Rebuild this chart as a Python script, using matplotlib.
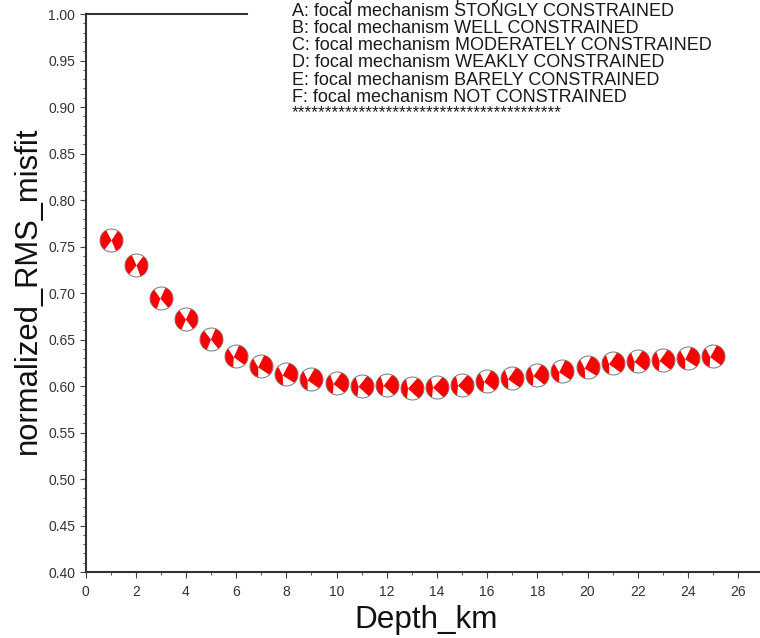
import numpy as np
import matplotlib
matplotlib.use('Agg')
import matplotlib.pyplot as plt
from matplotlib.path import Path

plt.rcParams['font.family'] = ['Liberation Sans', 'DejaVu Sans']

depth = list(range(1, 26))
misfit = [0.757, 0.730, 0.695, 0.672, 0.651, 0.632, 0.621, 0.613, 0.607, 0.603,
          0.600, 0.601, 0.598, 0.599, 0.601, 0.605, 0.609, 0.612, 0.616, 0.620,
          0.625, 0.627, 0.628, 0.630, 0.632]
# tilt of the red lobes (degrees) and shift of the nodal crossing to the left
tilt = [-5, -8, 8, 6, 8, 15, 15, 15, 12, 8,
        5, 5, 3, 3, 3, 10, 10, 8, 15, 15,
        10, 8, 8, 15, 12]
shift = [0.0, 0.0, 0.1, 0.05, 0.05, 0.25, 0.3, 0.35, 0.35, 0.35,
         0.35, 0.35, 0.4, 0.4, 0.4, 0.3, 0.4, 0.35, 0.3, 0.35,
         0.4, 0.35, 0.35, 0.3, 0.3]

x_ticks = list(range(0, 27, 2))
y_ticks = [0.40, 0.45, 0.50, 0.55, 0.60, 0.65, 0.70, 0.75, 0.80, 0.85, 0.90, 0.95, 1.00]
note_title = 'Signification of quality'
note_lines = ['A: focal mechanism STONGLY CONSTRAINED',
              'B: focal mechanism WELL CONSTRAINED',
              'C: focal mechanism MODERATELY CONSTRAINED',
              'D: focal mechanism WEAKLY CONSTRAINED',
              'E: focal mechanism BARELY CONSTRAINED',
              'F: focal mechanism NOT CONSTRAINED']
note_stars = '*' * 40


def BallLobes(tilt_deg, shift_x):
    # two red lobes of a focal sphere, meeting at a point left of centre
    verts, codes = [], []
    c = (-shift_x * np.cos(np.radians(tilt_deg)), -shift_x * np.sin(np.radians(tilt_deg)))
    for mid, half in [(180, 58), (0, 62)]:
        th = np.radians(np.linspace(mid + tilt_deg - half, mid + tilt_deg + half, 20))
        pts = [c] + list(zip(np.cos(th), np.sin(th))) + [c]
        verts += pts
        codes += [Path.MOVETO] + [Path.LINETO] * (len(pts) - 2) + [Path.CLOSEPOLY]
    return Path(verts, codes)


fig = plt.figure(figsize=(7.6, 6.38), dpi=100)
W, H = 760, 638
ax = fig.add_axes([85.5 / W, 1 - 572 / H, (760 - 85.5) / W, (572 - 14) / H])
ax.set_xlim(0, 26.87)
ax.set_ylim(0.40, 1.00)

ax.spines['right'].set_visible(False)
for s in ['left', 'bottom', 'top']:
    ax.spines[s].set_linewidth(1.5)
    ax.spines[s].set_color('#333333')
ax.spines['top'].set_bounds(0, 6.45)

ax.set_xticks(x_ticks)
ax.set_yticks(y_ticks)
ax.set_yticklabels([f'{v:.2f}' for v in y_ticks])
ax.set_xticks(np.arange(0, 27, 1), minor=True)
ax.set_yticks(np.arange(0.40, 1.001, 0.01), minor=True)
ax.tick_params(which='major', length=4.5, width=0.8, labelsize=10, color='#444444',
               labelcolor='#333333', pad=3)
ax.tick_params(which='minor', length=2.2, width=0.7, color='#555555')
ax.tick_params(axis='x', which='major', pad=5)

fig.text(426 / W, 1 - 628 / H, 'Depth_km', fontsize=22.7, va='baseline', ha='center', color='#111111')
fig.text(28 / W, 1 - 290 / H, 'normalized_RMS_misfit', fontsize=22.3, va='center', ha='center',
         rotation=90, color='#111111')

for d, m, t, sh in zip(depth, misfit, tilt, shift):
    ax.scatter([d], [m], s=274, c='white', edgecolors='#777777', linewidths=0.7,
               zorder=3, clip_on=False)
    ax.scatter([d], [m], s=262, marker=BallLobes(t, sh), c='#fb0000', linewidths=0,
               zorder=4, clip_on=False)

fig.text(327 / W, 1 - (-0.3) / H, note_title, fontsize=12.95, va='baseline', color='#1a1a1a')
for i, line in enumerate(note_lines):
    fig.text(292 / W, 1 - (15.5 + i * 17.3) / H, line, fontsize=12.95, va='baseline', color='#1a1a1a')
fig.text(292 / W, 1 - 113 / H, note_stars, fontsize=12.4, va='center', color='#1a1a1a')

fig.savefig('out.png', dpi=100)
